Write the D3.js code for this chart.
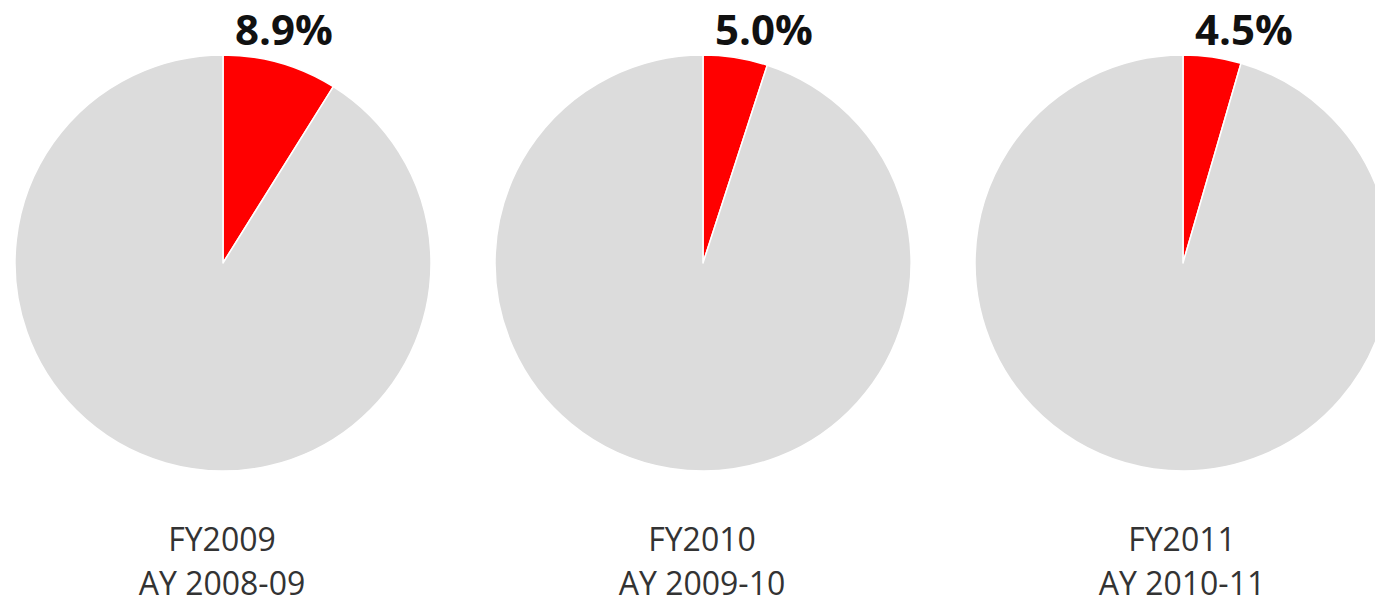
<!DOCTYPE html>
<html>
<head>
<meta charset="utf-8">
<script src="https://cdn.jsdelivr.net/npm/d3@7"></script>
<style>
  html, body { margin: 0; padding: 0; background: #fff; }
  svg { display: block; }
</style>
</head>
<body>
<svg id="chart" width="1375" height="605"></svg>
<script>
const fiscalYears = ["FY2009", "FY2010", "FY2011"];
const academicYears = ["AY 2008-09", "AY 2009-10", "AY 2010-11"];
const shareValues = [8.9, 5.0, 4.5];
const shareLabels = ["8.9%", "5.0%", "4.5%"];
const sliceColors = ["#ff0000", "#dcdcdc"];

const svg = d3.select("#chart");
const radius = 208;
const cy = 263;

const x = d3.scalePoint()
  .domain(fiscalYears)
  .range([223, 1183]);

const pie = d3.pie().sort(null).value(d => d);
const arc = d3.arc().innerRadius(0).outerRadius(radius);

fiscalYears.forEach((fy, i) => {
  const cx = x(fy);
  const g = svg.append("g").attr("transform", `translate(${cx},${cy})`);
  const data = pie([shareValues[i], 100 - shareValues[i]]);
  g.selectAll("path")
    .data(data)
    .join("path")
    .attr("d", arc)
    .attr("fill", (d, j) => sliceColors[j])
    .attr("stroke", "#ffffff")
    .attr("stroke-width", 1.5)
    .attr("stroke-linejoin", "round");

  svg.append("text")
    .attr("x", cx + 61)
    .attr("y", 45)
    .attr("text-anchor", "middle")
    .attr("font-family", "'Open Sans', sans-serif")
    .attr("font-weight", 700)
    .attr("font-size", 42)
    .attr("fill", "#111")
    .text(shareLabels[i]);

  svg.append("text")
    .attr("x", cx - 1)
    .attr("y", 551)
    .attr("text-anchor", "middle")
    .attr("font-family", "'Open Sans', sans-serif")
    .attr("font-size", 32)
    .attr("fill", "#333")
    .text(fy);

  svg.append("text")
    .attr("x", cx - 1)
    .attr("y", 595)
    .attr("text-anchor", "middle")
    .attr("font-family", "'Open Sans', sans-serif")
    .attr("font-size", 32)
    .attr("fill", "#333")
    .text(academicYears[i]);
});
</script>
</body>
</html>
